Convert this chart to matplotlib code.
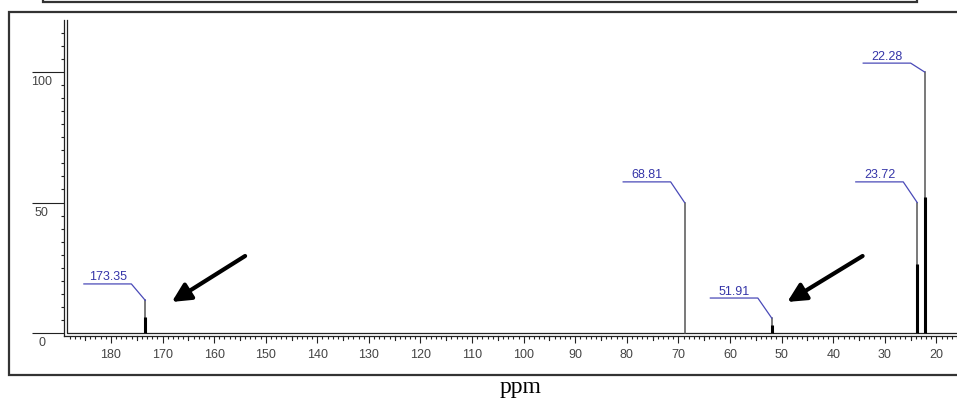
import matplotlib
matplotlib.use("Agg")
import matplotlib.pyplot as plt
from matplotlib.transforms import blended_transform_factory
import numpy as np

# 13C NMR peaks
PEAK_PPM   = [173.35, 68.81, 51.91, 23.72, 22.28]
PEAK_H     = [6.0, 50.0, 3.0, 26.5, 52.0]
LEADER_TOP = [12.5, 50.0, 5.7, 50.0, 100.0]
LABEL_Y    = [18.8, 57.9, 13.4, 57.9, 103.4]
PEAK_LABEL = ["173.35", "68.81", "51.91", "23.72", "22.28"]

X_TICKS = list(range(180, 19, -10))
Y_TICKS = [0, 50, 100]

# arrows pointing at the weak peaks: (tail ppm, tail y, tip ppm, tip y)
ARROWS = [(154.0, 29.5, 168.2, 11.9), (34.3, 29.5, 48.9, 11.9)]

INK   = "#222222"
TICKC = "#444444"
BLUE  = "#3535a8"
LEAD  = "#4a4ab8"
GRAYL = "#555555"

plt.rcParams["font.family"] = ["Liberation Sans", "DejaVu Sans"]

W, H = 957, 398
fig = plt.figure(figsize=(W / 100, H / 100), dpi=100)

# frames, drawn in pixel coordinates
bg = fig.add_axes([0, 0, 1, 1], zorder=0)
bg.set_xlim(0, W); bg.set_ylim(H, 0); bg.axis("off")
bg.plot([43, 43, 917, 917], [-2, 1.5, 1.5, -2], color="#333333", lw=1.6, solid_joinstyle="miter")
bg.plot([W + 5, 8.5, 8.5, W + 5], [12, 12, 375, 375], color="#333333", lw=1.6, solid_joinstyle="miter")

# data axes (outer L of the double frame is the spine)
px_ppm = 5.1625
px_int = 2.61
x_left = 180 + (111 - 64) / px_ppm
x_inner = 180 + (111 - 67) / px_ppm
x_right = 20 - (W - 937) / px_ppm
y_bot = -(336 - 333) / px_int
y_top = (333 - 20) / px_int

ax = fig.add_axes([64 / W, 1 - 336 / H, (W - 64) / W, (336 - 20) / H], zorder=2)
ax.patch.set_alpha(0)
ax.set_xlim(x_left, x_right)
ax.set_ylim(y_bot, y_top)
for s in ("top", "right"):
    ax.spines[s].set_visible(False)
for s in ("left", "bottom"):
    ax.spines[s].set_color(INK)
    ax.spines[s].set_linewidth(0.9)

# inner L of the double frame
ax.plot([x_inner, x_inner, x_right], [y_top, 0, 0], color=INK, lw=0.9, clip_on=False)

ax.set_xticks(X_TICKS)
ax.set_xticklabels([str(t) for t in X_TICKS])
ax.set_xticks(np.arange(16, 189, 1), minor=True)
ax.tick_params(axis="x", which="major", length=5, width=0.8, color=INK, pad=4,
               labelsize=9, labelcolor=TICKC)
ax.tick_params(axis="x", which="minor", length=2.2, width=0.8, color=INK)
# medium ticks at the 5s
tr = blended_transform_factory(ax.transData, ax.transAxes)
for v in range(25, 189, 10):
    ax.plot([v, v], [0, -3.5 / 316], transform=tr, color=INK, lw=0.8, clip_on=False)

ax.set_yticks(Y_TICKS)
ax.set_yticklabels([])
ax.set_yticks(np.arange(0, 120, 5), minor=True)
ax.tick_params(axis="y", which="major", length=23, width=0.8, color=INK)
ax.tick_params(axis="y", which="minor", length=2.2, width=0.8, color=INK)
for v in Y_TICKS:
    ax.annotate(str(v), xy=(0, v), xycoords=("axes fraction", "data"),
                xytext=(-16, -3), textcoords="offset points",
                ha="center", va="top", fontsize=9, color=TICKC)

# leaders (gray vertical part), then peaks where they stand below the leader top
for p, lt in zip(PEAK_PPM, LEADER_TOP):
    ax.plot([p, p], [0, lt], color=GRAYL, lw=1.1, zorder=3)
for p, h, lt in zip(PEAK_PPM, PEAK_H, LEADER_TOP):
    if h < lt:
        ax.plot([p, p], [0, h], color="black", lw=2.2, zorder=4, solid_capstyle="butt")

# peak labels with blue underline + diagonal leader
for p, lt, ly, lab in zip(PEAK_PPM, LEADER_TOP, LABEL_Y, PEAK_LABEL):
    x_end = p + 2.7
    x_start = x_end + 9.2
    ax.plot([x_start, x_end, p], [ly, ly, lt], color=LEAD, lw=0.9, zorder=3)
    ax.text((x_start + x_end) / 2, ly + 0.2, lab, ha="center", va="bottom",
            fontsize=9, color=BLUE)

for tx, ty, hx, hy in ARROWS:
    ax.annotate("", xy=(hx, hy), xytext=(tx, ty),
                arrowprops=dict(arrowstyle="-|>", color="black", lw=3.0,
                                mutation_scale=28, shrinkA=0, shrinkB=0))

fig.text(521 / W, (H - 393) / H, "ppm", ha="center", va="baseline",
         fontsize=17, family=["Liberation Serif", "DejaVu Serif"], color="black")

fig.savefig("out.png", dpi=100)
